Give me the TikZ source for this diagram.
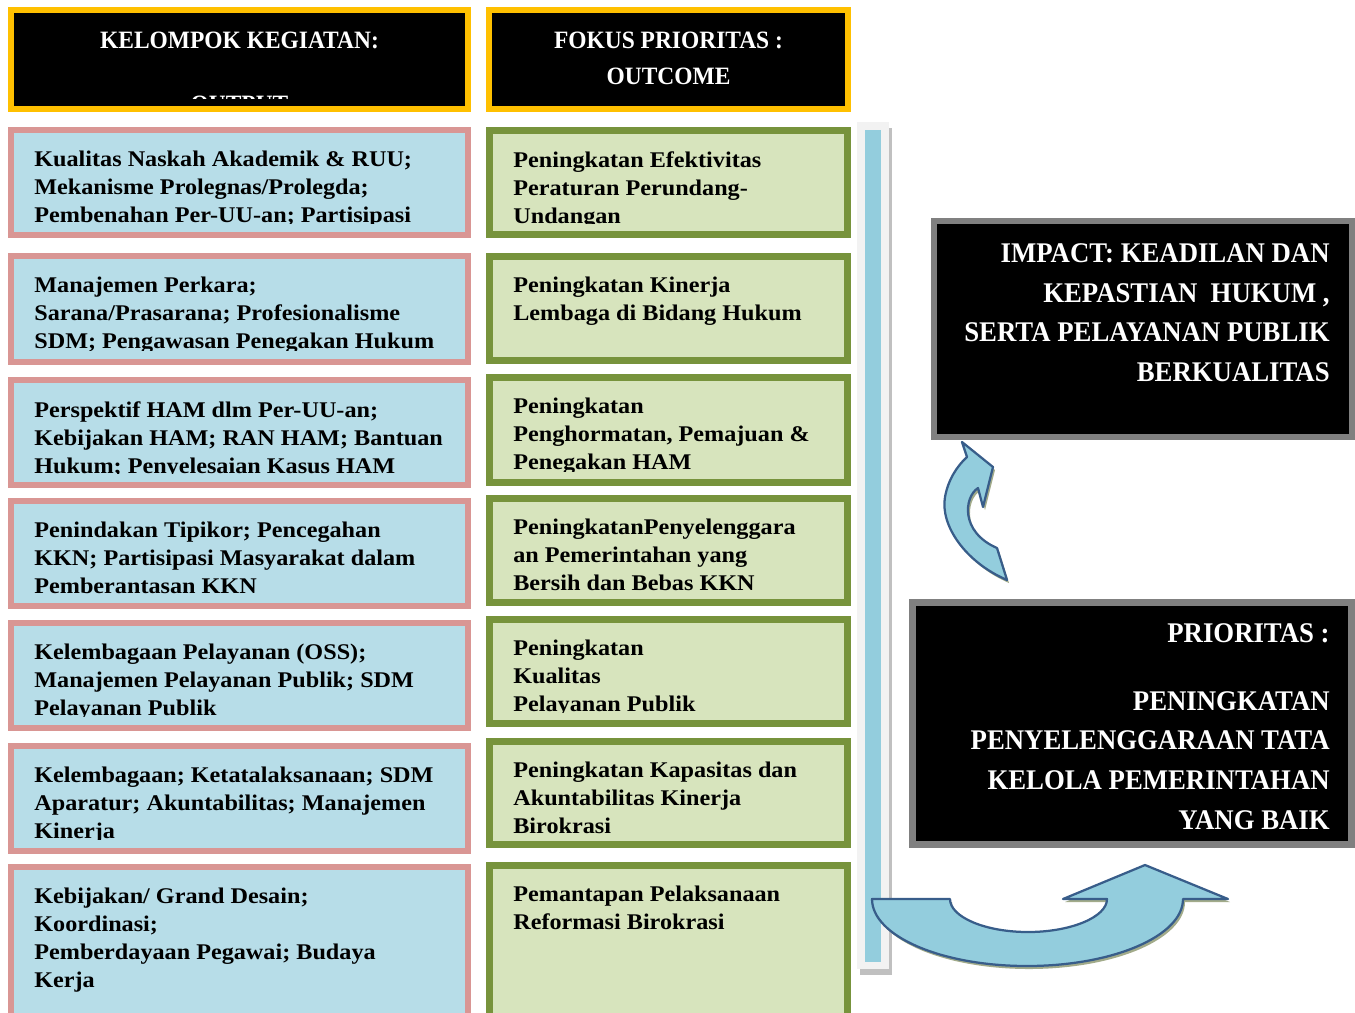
\documentclass[tikz,border=0pt]{standalone}
\usepackage{fontspec}
\setmainfont{Liberation Serif}[FakeStretch=1.08]
\newfontfamily\judulfont{Liberation Serif}[FakeStretch=0.94]
\usetikzlibrary{fit,shadows}

\definecolor{kuning}{HTML}{FFC000}
\definecolor{pinkgaris}{HTML}{D99694}
\definecolor{birumuda}{HTML}{B7DDE8}
\definecolor{hijautua}{HTML}{77933C}
\definecolor{hijaumuda}{HTML}{D7E4BD}
\definecolor{abu}{HTML}{808080}
\definecolor{abumuda}{HTML}{F2F2F2}
\definecolor{abubayang}{HTML}{C0C0C0}
\definecolor{panahbiru}{HTML}{93CDDD}
\definecolor{panahgaris}{HTML}{385D8A}
\definecolor{panahbayang}{HTML}{A2AB8A}

\begin{document}
\begin{tikzpicture}[x=0.02cm,y=-0.02cm,
  kotak/.style={inner sep=0pt, line width=0.12cm},
  keg/.style={kotak, draw=pinkgaris, fill=birumuda},
  fokus/.style={kotak, draw=hijautua, fill=hijaumuda, line width=0.14cm},
  judul/.style={kotak, draw=kuning, fill=black},
  hitam/.style={kotak, draw=abu, fill=black, line width=0.13cm},
  isi/.style={inner sep=0pt, anchor=north west, align=left,
    font=\bfseries\fontsize{12.75}{15.9}\selectfont},
  tjudul/.style={inner sep=0pt, anchor=north, text=white, align=center,
    font=\judulfont\bfseries\fontsize{14.2}{20.4}\selectfont},
  tbesar/.style={inner sep=0pt, anchor=north east, text=white, align=right,
    font=\judulfont\bfseries\fontsize{16.2}{22.7}\selectfont},
  panah/.style={fill=panahbiru, draw=panahgaris, line width=0.045cm, line join=round,
    drop shadow={shadow xshift=0.04cm, shadow yshift=-0.06cm, fill=panahbayang, opacity=1}}]
  \useasboundingbox (0,0) rectangle (1355,1012);

  % judul kolom
  \node[judul, fit={(11,10) (468,109)}] (hkeg) {};
  \begin{scope}
    \clip (14,13) rectangle (465,98);
    \node[tjudul] (thkeg) at (239.5,32) {KELOMPOK KEGIATAN:\\[-4.5pt]\mbox{}\\OUTPUT};
  \end{scope}
  \node[judul, fit={(489,10) (848,109)}] (hfok) {};
  \node[tjudul] (thfok) at (668.5,32) {FOKUS PRIORITAS :\\OUTCOME};

  % kelompok kegiatan (output)
  \foreach \n/\atas/\bawah/\teks in {
    1/127/238/{Kualitas Naskah Akademik \& RUU;\\Mekanisme Prolegnas/Prolegda;\\Pembenahan Per-UU-an; Partisipasi},
    2/253/365/{Manajemen Perkara;\\Sarana/Prasarana; Profesionalisme\\SDM; Pengawasan Penegakan Hukum},
    3/377/488/{Perspektif HAM dlm Per-UU-an;\\Kebijakan HAM; RAN HAM; Bantuan\\Hukum; Penyelesaian Kasus HAM},
    4/498/609/{Penindakan Tipikor; Pencegahan\\KKN; Partisipasi Masyarakat dalam\\Pemberantasan KKN},
    5/620/731/{Kelembagaan Pelayanan (OSS);\\Manajemen Pelayanan Publik; SDM\\Pelayanan Publik},
    6/743/854/{Kelembagaan; Ketatalaksanaan; SDM\\Aparatur; Akuntabilitas; Manajemen\\Kinerja},
    7/864/1040/{Kebijakan/ Grand Desain;\\Koordinasi;\\Pemberdayaan Pegawai; Budaya\\Kerja}}{
    \node[keg, fit={(11,\atas+3) (468,\bawah-3)}] (keg\n) {};
    \begin{scope}
      \clip (14,\atas+6) rectangle (465,\bawah-15);
      \node[isi] (tkeg\n) at (34,\atas+24) {\teks};
    \end{scope}
  }

  % fokus prioritas (outcome)
  \foreach \n/\atas/\bawah/\teks in {
    1/127/238/{Peningkatan Efektivitas\\Peraturan Perundang-\\Undangan},
    2/253/364/{Peningkatan Kinerja\\Lembaga di Bidang Hukum},
    3/374/486/{Peningkatan\\Penghormatan, Pemajuan \&\\Penegakan HAM},
    4/495/606/{PeningkatanPenyelenggara\\an Pemerintahan yang\\Bersih dan Bebas KKN},
    5/616/727/{Peningkatan\\Kualitas\\Pelayanan Publik},
    6/738/848/{Peningkatan Kapasitas dan\\Akuntabilitas Kinerja\\Birokrasi},
    7/862/1040/{Pemantapan Pelaksanaan\\Reformasi Birokrasi}}{
    \node[fokus, fit={(489.5,\atas+3.5) (847.5,\bawah-3.5)}] (fok\n) {};
    \begin{scope}
      \clip (493,\atas+7) rectangle (844,\bawah-15);
      \node[isi] (tfok\n) at (513,\atas+24) {\teks};
    \end{scope}
  }

  % batang tegak
  \node[inner sep=0pt, fill=abumuda, fit={(857,122) (889,969)},
    drop shadow={shadow xshift=0.06cm, shadow yshift=-0.11cm, fill=abubayang, opacity=1}] (rangka) {};
  \node[inner sep=0pt, fill=panahbiru, fit={(865,130) (881,962)}] (batang) {};

  % impact dan prioritas
  \node[hitam, fit={(934,221) (1352,437)}] (impact) {};
  \node[tbesar] (timpact) at (1330,243)
    {IMPACT: KEADILAN DAN\\KEPASTIAN\ \ HUKUM ,\\SERTA PELAYANAN PUBLIK\\BERKUALITAS};
  \node[hitam, fit={(912.5,602.5) (1351.5,844.5)}] (prior) {};
  \node[tbesar] (tprior) at (1330,623.5)
    {PRIORITAS :\\[15.6pt]PENINGKATAN\\PENYELENGGARAAN TATA\\KELOLA PEMERINTAHAN\\YANG BAIK};

  % panah lengkung ke atas
  \draw[panah] (1007,580) .. controls (965,562) and (940,525) .. (945,497)
    .. controls (948,480) and (957,466) .. (967,457) -- (962,442) -- (993,467)
    -- (983,507) -- (978,488) .. controls (964,497) and (960,532) .. (997,548) -- cycle;

  % panah lengkung bawah
  \draw[panah] (872,899) -- (950,899) .. controls (950,917) and (985,932) .. (1028,932)
    .. controls (1071,932) and (1107,917) .. (1107,899) -- (1063,899) -- (1145,865)
    -- (1228,899) -- (1183,899) .. controls (1183,936) and (1113,966) .. (1027,966)
    .. controls (941,966) and (872,936) .. (872,899) -- cycle;
\end{tikzpicture}
\end{document}
